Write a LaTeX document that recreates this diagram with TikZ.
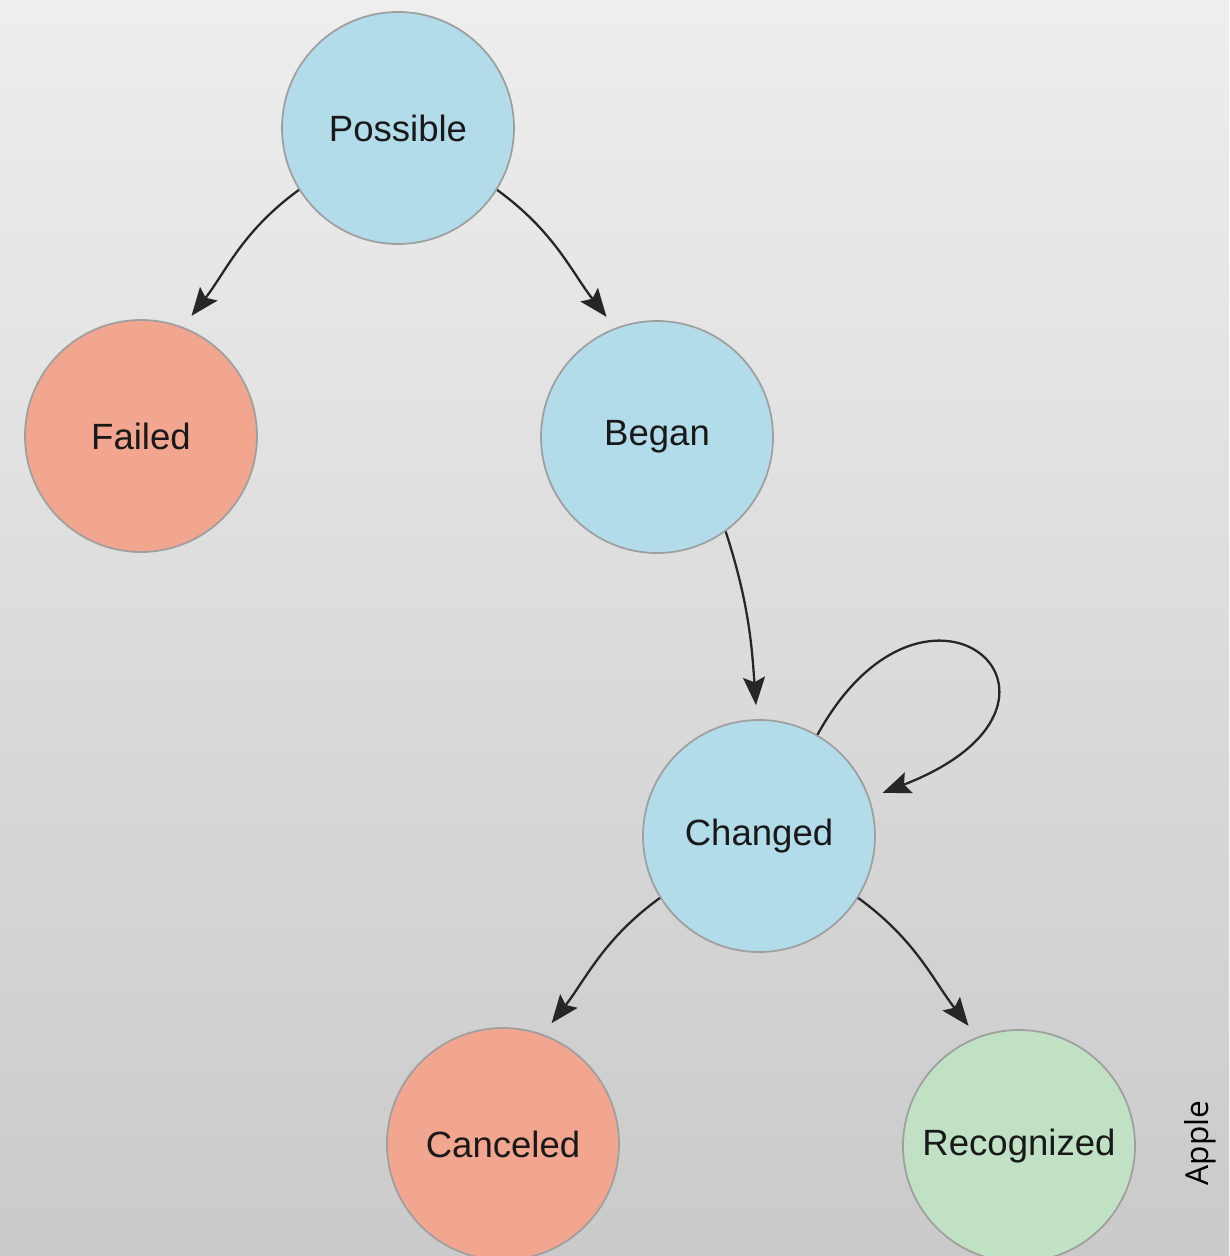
\documentclass[tikz,border=0pt]{standalone}
\usepackage{fontspec}
\setmainfont{Liberation Sans}
\newfontfamily\creditfont{Open Sans}
\usetikzlibrary{arrows.meta, positioning}
\definecolor{stateblue}{RGB}{179, 220, 235}
\definecolor{statered}{RGB}{242, 166, 143}
\definecolor{stategreen}{RGB}{192, 225, 196}
\definecolor{bgtop}{RGB}{238, 238, 238}
\definecolor{bgbottom}{RGB}{202, 202, 202}

\begin{document}
\begin{tikzpicture}[font=\fontsize{10.4}{12}\selectfont, >={Stealth[length=0.28cm, width=0.22cm, inset=0.05cm]},
    state/.style={circle, draw=gray!75, line width=0.5pt, minimum size=2.32cm, inner sep=1pt, text=black!90},
    trans/.style={->, line width=0.65pt, black!85, shorten >=0.14cm}]
  % background
  \fill[top color=bgtop, bottom color=bgbottom] (0,0) rectangle (12.29,-12.56);
  \useasboundingbox (0,0) rectangle (12.29,-12.56);
  % states
  \node[state, fill=stateblue]  (possible)   at (3.98, -1.28)  {Possible};
  \node[state, fill=statered]   (failed)     at (1.41, -4.36)  {Failed};
  \node[state, fill=stateblue]  (began)      at (6.57, -4.37)  {Began};
  \node[state, fill=stateblue]  (changed)    at (7.59, -8.36)  {Changed};
  \node[state, fill=statered]   (canceled)   at (5.03, -11.44) {Canceled};
  \node[state, fill=stategreen] (recognized) at (10.19, -11.46) {Recognized};
  % transitions
  \draw[trans] (possible.-148) to[out=-144, in=52]  (failed.69);
  \draw[trans] (possible.-32)  to[out=-36,  in=128] (began.111);
  \draw[trans] (began.-54)     to[out=-72,  in=94]  (changed.91);
  \draw[trans] (changed.60) .. controls +(1.1, 2.0) and +(2.45, 0.95) .. (changed.19);
  \draw[trans] (changed.-148)  to[out=-144, in=52]  (canceled.70);
  \draw[trans] (changed.-32)   to[out=-36,  in=128] (recognized.111);
  % credit
  \node[rotate=90, font=\creditfont\fontsize{9}{10}\selectfont] (credit) at (12.0, -11.43) {Apple};
\end{tikzpicture}
\end{document}
